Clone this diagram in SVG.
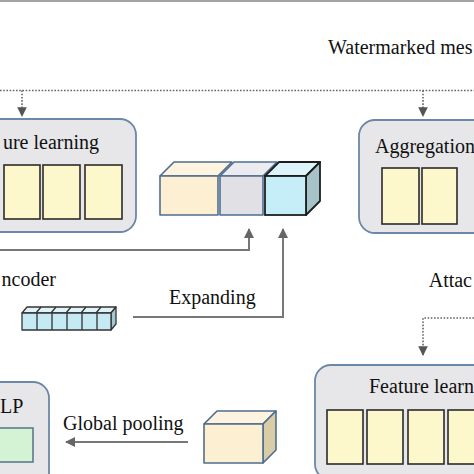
<svg xmlns="http://www.w3.org/2000/svg" width="474" height="474" viewBox="0 0 474 474">
<style>
text{font-family:"Liberation Serif","Times New Roman",serif;font-size:20px;fill:#111}
.box{fill:#e7e7e9;stroke:#6b88a6;stroke-width:1.8}
.cell{fill:#fdf7cc;stroke:#2b2b2b;stroke-width:1.6}
.solid{fill:none;stroke:#777;stroke-width:2}
.dot{fill:none;stroke:#666;stroke-width:1.6;stroke-dasharray:1.6 1.6}
.cb{stroke:#4f6e90;stroke-width:1.6;stroke-linejoin:round}
</style>
<defs>
<marker id="ah" viewBox="0 0 10 10" refX="9" refY="5" markerWidth="5" markerHeight="5" orient="auto" markerUnits="strokeWidth"><path d="M0,0 L10,5 L0,10 z" fill="#666"/></marker>
<marker id="ahd" viewBox="0 0 10 10" refX="9" refY="5" markerWidth="6" markerHeight="6" orient="auto" markerUnits="strokeWidth"><path d="M0,0 L10,5 L0,10 z" fill="#555"/></marker>
</defs>
<rect x="0" y="0" width="474" height="2" fill="#a3a3a3"/>
<text x="328" y="54">Watermarked mes</text>
<text x="169" y="304">Expanding</text>
<text x="56" y="286" text-anchor="end">ncoder</text>
<text x="472" y="287" text-anchor="end">Attac</text>
<text x="63" y="430">Global pooling</text>

<g id="connectors">
<path class="dot" d="M0,90.5 H474"/>
<path class="dot" d="M22,90.5 V116" marker-end="url(#ahd)"/>
<path class="dot" d="M423,90.5 V116" marker-end="url(#ahd)"/>
<path class="dot" d="M474,318 H423 V355" marker-end="url(#ahd)"/>
<path class="solid" d="M0,250 H249 V229" marker-end="url(#ah)"/>
<path class="solid" d="M133,317 H283 V229" marker-end="url(#ah)"/>
<path class="solid" d="M188,442 H66" marker-end="url(#ah)"/>
</g>

<g id="feature-learning-top">
<rect class="box" x="-30" y="119" width="166" height="113" rx="16"/>
<text x="99" y="149" text-anchor="end">ure learning</text>
<rect class="cell" x="4" y="165" width="36" height="54"/>
<rect class="cell" x="43" y="165" width="37" height="54"/>
<rect class="cell" x="85" y="165" width="37" height="54"/>
</g>

<g id="aggregation">
<rect class="box" x="359" y="120" width="140" height="113" rx="16"/>
<text x="375" y="153">Aggregation</text>
<rect class="cell" x="382" y="168" width="37" height="56"/>
<rect class="cell" x="422" y="168" width="35" height="56"/>
</g>

<g id="concat-cubes">
<path class="cb" d="M160,176 L174,162 L232,162 L218,176 z" fill="#fdf3df"/>
<rect class="cb" x="160" y="176" width="58" height="39" fill="#fcefd2"/>
<path class="cb" d="M220,176 L234,162 L277,162 L263,176 z" fill="#ececf0"/>
<rect class="cb" x="220" y="176" width="43" height="39" fill="#e1e1e5"/>
<path d="M265,176 L279,162 L320,162 L306,176 z" fill="#dcf4fa" stroke="#1e1e1e" stroke-width="1.8" stroke-linejoin="round"/>
<path d="M306,176 L320,162 L320,201 L306,215 z" fill="#a6c3c9" stroke="#1e1e1e" stroke-width="1.8" stroke-linejoin="round"/>
<rect x="265" y="176" width="41" height="39" fill="#c6eef8" stroke="#1e1e1e" stroke-width="1.8"/>
</g>

<g id="message-vector" stroke="#333" stroke-width="1.3" stroke-linejoin="round">
<path d="M22,313 L27,307 L116,307 L111,313 z" fill="#dff3f8"/>
<path d="M111,313 L116,307 L116,324 L111,330 z" fill="#a8c7cd"/>
<rect x="22" y="313" width="89" height="17" fill="#c6eaf4"/>
<path d="M37,313 V330 M52,313 V330 M67,313 V330 M82,313 V330 M97,313 V330 M36,313 L41,307 M51,313 L56,307 M66,313 L71,307 M81,313 L86,307 M96,313 L101,307" fill="none"/>
</g>

<g id="feature-learning-bottom">
<rect class="box" x="315" y="365" width="190" height="115" rx="16"/>
<text x="369" y="393">Feature learn</text>
<rect class="cell" x="327" y="410" width="36" height="54"/>
<rect class="cell" x="367" y="410" width="36" height="54"/>
<rect class="cell" x="408" y="410" width="36" height="54"/>
<rect class="cell" x="448" y="410" width="36" height="54"/>
</g>

<g id="pooled-cube">
<path class="cb" d="M204,424 L217,411 L276,411 L263,424 z" fill="#fdf3df"/>
<path class="cb" d="M263,424 L276,411 L276,450 L263,463 z" fill="#d8cda6"/>
<rect class="cb" x="204" y="424" width="59" height="39" fill="#fcefd2"/>
</g>

<g id="mlp">
<rect class="box" x="-40" y="382" width="89" height="110" rx="16"/>
<text x="0" y="413">LP</text>
<rect x="-5" y="428" width="38" height="34" fill="#d4f3d4" stroke="#5b7b8c" stroke-width="1.6"/>
</g>
</svg>
